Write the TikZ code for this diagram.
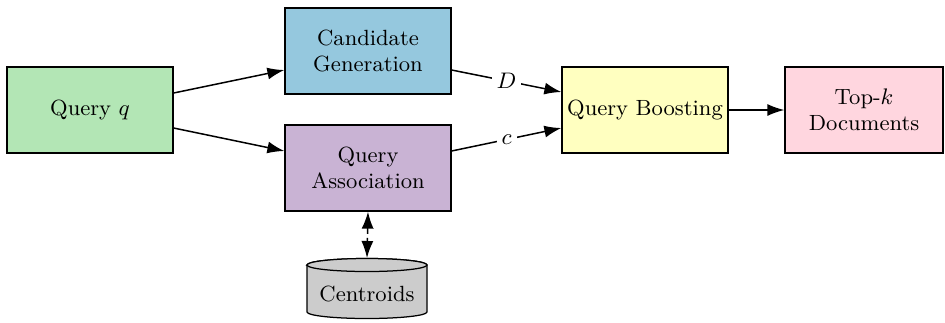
\documentclass[tikz,border=0pt]{standalone}
\usetikzlibrary{arrows.meta,calc}
\definecolor{qgreen}{HTML}{B3E6B5}
\definecolor{cblue}{HTML}{95C8DE}
\definecolor{apurple}{HTML}{C9B3D4}
\definecolor{byellow}{HTML}{FFFFC0}
\definecolor{tpink}{HTML}{FFD6DF}
\definecolor{cgray}{HTML}{CCCCCC}
\begin{document}
\begin{tikzpicture}[x=0.4pt,y=-0.4pt,
  font=\fontsize{8.8}{10.2}\selectfont,
  block/.style={draw, line width=0.5pt, minimum width=66.4pt, minimum height=34.4pt,
                align=center, inner sep=1pt},
  tip/.tip={Latex[length=6.8pt,width=4.8pt]},
  link/.style={-tip, line width=0.6pt},
  lab/.style={fill=white, inner sep=2pt}]
\useasboundingbox (0,0) rectangle (945,322);

% processing blocks
\node[block, fill=qgreen]  (q)     at (90,110)  {Query $q$};
\node[block, fill=cblue]   (cand)  at (368,51)  {Candidate\\Generation};
\node[block, fill=apurple] (assoc) at (368,168) {Query\\Association};
\node[block, fill=byellow] (boost) at (645,110) {Query Boosting};
\node[block, fill=tpink, minimum width=63.2pt] (top) at (864,110) {Top-$k$\\Documents};

% centroid store drawn as a cylinder
\fill[cgray, draw=black, line width=0.5pt]
  (307,265) -- (307,312) arc[start angle=180, end angle=360, x radius=24pt, y radius=2.6pt]
  -- (427,265) arc[start angle=0, end angle=180, x radius=24pt, y radius=2.6pt] -- cycle;
\draw[fill=cgray, line width=0.5pt] (367,265) ellipse [x radius=24pt, y radius=2.6pt];
\node (cent) at (367,294) {Centroids};
\coordinate (ctop) at (367,258);

% connectors
\draw[link] ($(q.east)+(0,-17)$) -- ($(cand.west)+(0,19)$);
\draw[link] ($(q.east)+(0,18)$) -- ($(assoc.west)+(0,-17)$);
\draw[link] ($(cand.east)+(0,19)$) -- node[lab] {$D$} ($(boost.west)+(0,-18)$);
\draw[link] ($(assoc.east)+(0,-17)$) -- node[lab] {$c$} ($(boost.west)+(0,18)$);
\draw[link] (boost.east) -- (top.west);
\draw[tip-tip, line width=0.6pt, dash pattern=on 2.4pt off 1.6pt]
  (assoc.south) -- (ctop);
\end{tikzpicture}
\end{document}
